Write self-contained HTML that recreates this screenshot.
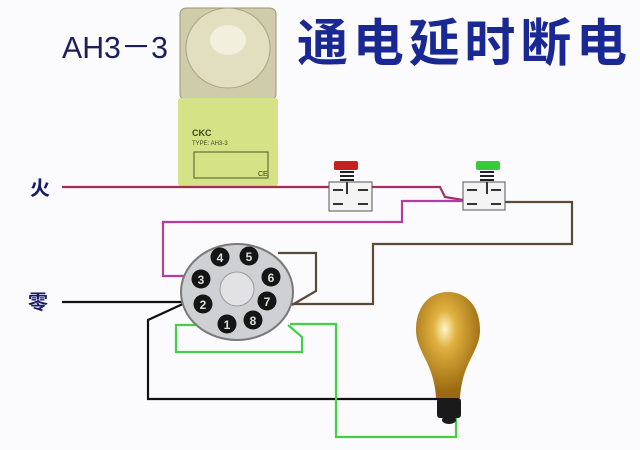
<!DOCTYPE html>
<html><head><meta charset="utf-8"><style>
body{margin:0;width:640px;height:445px;background:#fbfafc;overflow:hidden}
</style></head><body>
<svg width="640" height="445" viewBox="0 0 640 445" xmlns="http://www.w3.org/2000/svg">
<rect width="640" height="445" fill="#fbfafc"/>
<text x="62" y="58" font-family="Liberation Sans, sans-serif" font-size="31" fill="#1c1c5e" textLength="106" lengthAdjust="spacingAndGlyphs">AH3－3</text>
<text x="297" y="61" font-family="Liberation Sans, 'Noto Sans CJK SC', sans-serif" font-size="51" font-weight="bold" fill="#1a2894" textLength="330" lengthAdjust="spacing">通电延时断电</text>
<!-- timer -->
<rect x="180" y="8" width="96" height="92" rx="6" fill="#cfccaa" stroke="#9a9678"/>
<ellipse cx="228" cy="48" rx="42" ry="40" fill="#e2dec0" stroke="#a8a482"/>
<ellipse cx="228" cy="40" rx="18" ry="15" fill="#f2efdc"/>
<rect x="178" y="98" width="100" height="88" rx="3" fill="#d6e286"/>
<text x="192" y="136" font-family="Liberation Sans, sans-serif" font-size="9" font-weight="bold" fill="#3b4a20">CKC</text>
<text x="192" y="145" font-family="Liberation Sans, sans-serif" font-size="6" fill="#3b4a20">TYPE: AH3-3</text>
<rect x="194" y="152" width="74" height="26" fill="none" stroke="#4a5a2a" stroke-width="1"/>
<text x="258" y="176" font-family="Liberation Sans, sans-serif" font-size="7" fill="#333">CE</text>
<!-- wires -->
<g fill="none" stroke-width="2.2">
<polyline points="62,187 330,187" stroke="#a42a52"/>
<polyline points="372,187 440,187 445,197 463,200" stroke="#a4306a"/>
<polyline points="463,201 402,201 402,222 163,222 163,276 193,276" stroke="#b43c9a"/>
<polyline points="505,202 572,202 572,244 373,244 373,304 292,304" stroke="#5a4a38"/>
<polyline points="278,253 316,253 316,291 292,305" stroke="#5a4a38"/>
<polyline points="62,302 185,302" stroke="#111"/>
<polyline points="185,303 148,320 148,399 445,399" stroke="#111"/>
<polyline points="200,325 176,325 176,352 302,352 302,337 288,325" stroke="#44d044"/>
<polyline points="290,324 336,324 336,437 456,437 456,402" stroke="#44d044"/>
</g>
<!-- switches -->
<g stroke="#555" stroke-width="1" fill="#f4f4f4">
<rect x="334" y="161" width="24" height="9" rx="2" fill="#c81e1e" stroke="none"/>
<rect x="476" y="161" width="24" height="9" rx="2" fill="#3cc83c" stroke="none"/>
<rect x="329" y="182" width="43" height="29"/><rect x="463" y="182" width="42" height="28"/>
<path d="M340 172h14M340 176h14M340 180h14M480 172h14M480 176h14M480 180h14" stroke="#222" stroke-width="2"/>
<path d="M347 182v12M487 182v12M333 190h10M358 190h10M333 204h10M358 204h10M467 190h10M491 190h10M467 204h10M491 204h10" stroke="#333" stroke-width="2"/>
</g>
<!-- socket -->
<ellipse cx="237" cy="292" rx="56" ry="48" fill="#cfd0d3" stroke="#7a7a7a" stroke-width="2"/>
<circle cx="237" cy="289" r="17" fill="#e2e2e4" stroke="#999"/>
<g font-family="Liberation Sans, sans-serif" font-size="12" font-weight="bold" fill="#ddd" text-anchor="middle">
<circle cx="220" cy="257" r="9.5" fill="#151515"/><text x="220" y="262">4</text>
<circle cx="249" cy="256" r="9.5" fill="#151515"/><text x="249" y="261">5</text>
<circle cx="271" cy="277" r="9.5" fill="#151515"/><text x="271" y="282">6</text>
<circle cx="201" cy="279" r="9.5" fill="#151515"/><text x="201" y="284">3</text>
<circle cx="203" cy="304" r="9.5" fill="#151515"/><text x="203" y="309">2</text>
<circle cx="267" cy="301" r="9.5" fill="#151515"/><text x="267" y="306">7</text>
<circle cx="227" cy="324" r="9.5" fill="#151515"/><text x="227" y="329">1</text>
<circle cx="253" cy="320" r="9.5" fill="#151515"/><text x="253" y="325">8</text>
</g>
<!-- lamp -->
<defs><radialGradient id="g" cx="0.45" cy="0.35" r="0.6"><stop offset="0" stop-color="#fff6c8"/><stop offset="0.3" stop-color="#e0b040"/><stop offset="1" stop-color="#9a6a10"/></radialGradient></defs>
<path d="M448 292 C468 292 480 308 480 330 C480 352 462 362 460 398 L436 398 C434 362 416 352 416 330 C416 308 428 292 448 292Z" fill="url(#g)"/>
<rect x="437" y="398" width="24" height="20" rx="3" fill="#1a1a1a"/>
<ellipse cx="449" cy="420" rx="7" ry="4" fill="#1a1a1a"/>
<text x="30" y="195" font-family="'Noto Sans CJK SC', sans-serif" font-size="20" font-weight="bold" fill="#1a1a6a">火</text>
<text x="28" y="309" font-family="'Noto Sans CJK SC', sans-serif" font-size="20" font-weight="bold" fill="#1a1a6a">零</text>
</svg>
</body></html>
